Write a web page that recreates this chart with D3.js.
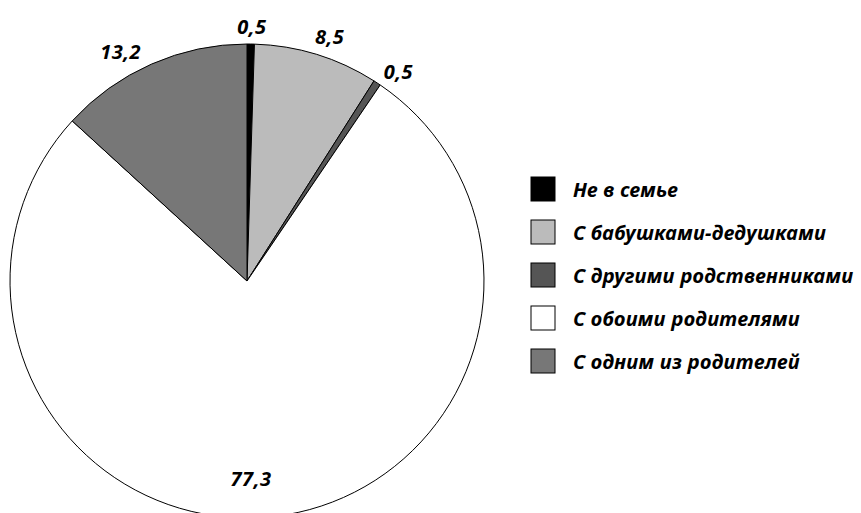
<!DOCTYPE html>
<html>
<head>
<meta charset="utf-8">
<script src="https://cdn.jsdelivr.net/npm/d3@7"></script>
<style>
  body { margin: 0; background: #fff; }
  text { font-family: "Noto Sans", sans-serif; font-weight: bold; font-style: italic; }
</style>
</head>
<body>
<div id="chart"></div>
<script>
// chart data
const categories = ["Не в семье", "С бабушками-дедушками", "С другими родственниками", "С обоими родителями", "С одним из родителей"];
const values = [0.5, 8.5, 0.5, 77.3, 13.2];
const labels = ["0,5", "8,5", "0,5", "77,3", "13,2"];
const colors = ["#000000", "#bbbbbb", "#555555", "#ffffff", "#777777"];

const width = 861, height = 513;
const cx = 247, cy = 281, radius = 237;

// small hand nudges so labels sit where the original puts them
const nudge = [[1, -1], [8, -2], [12, 3], [-20, -8], [-24, 3]];

let svg = d3.select("#chart")
    .append("svg")
    .attr("width", width)
    .attr("height", height);

let g = svg.append("g")
    .attr("transform", `translate(${cx},${cy})`);

let pie = d3.pie().sort(null).value(d => d);
let arcs = pie(values);

let arc = d3.arc().innerRadius(0).outerRadius(radius);

g.selectAll("path")
    .data(arcs)
    .enter().append("path")
    .attr("d", arc)
    .attr("fill", (d, i) => colors[i])
    .attr("stroke", "#000")
    .attr("stroke-width", 1);

// labels: outside for small slices, inside for the big one
let outer = d3.arc().innerRadius(254).outerRadius(254);
let inner = d3.arc().innerRadius(207).outerRadius(207);

g.selectAll("text.lbl")
    .data(arcs)
    .enter().append("text")
    .attr("class", "lbl")
    .attr("transform", (d, i) => {
        let [x, y] = (values[i] > 50 ? inner : outer).centroid(d);
        return `translate(${x + nudge[i][0]},${y + nudge[i][1]})`;
    })
    .attr("text-anchor", "middle")
    .attr("dominant-baseline", "central")
    .style("font-size", "20px")
    .style("letter-spacing", "0.5px")
    .text((d, i) => labels[i]);

// legend
let legend = svg.append("g")
    .attr("transform", "translate(531,177)");

let item = legend.selectAll("g")
    .data(categories)
    .enter().append("g")
    .attr("transform", (d, i) => `translate(0,${i * 43})`);

item.append("rect")
    .attr("width", 24)
    .attr("height", 24)
    .attr("fill", (d, i) => colors[i])
    .attr("stroke", "#000")
    .attr("stroke-width", 1);

item.append("text")
    .attr("x", 42)
    .attr("y", 12)
    .attr("dominant-baseline", "central")
    .style("font-size", "20px")
    .style("letter-spacing", "0.3px")
    .text(d => d);
</script>
</body>
</html>
